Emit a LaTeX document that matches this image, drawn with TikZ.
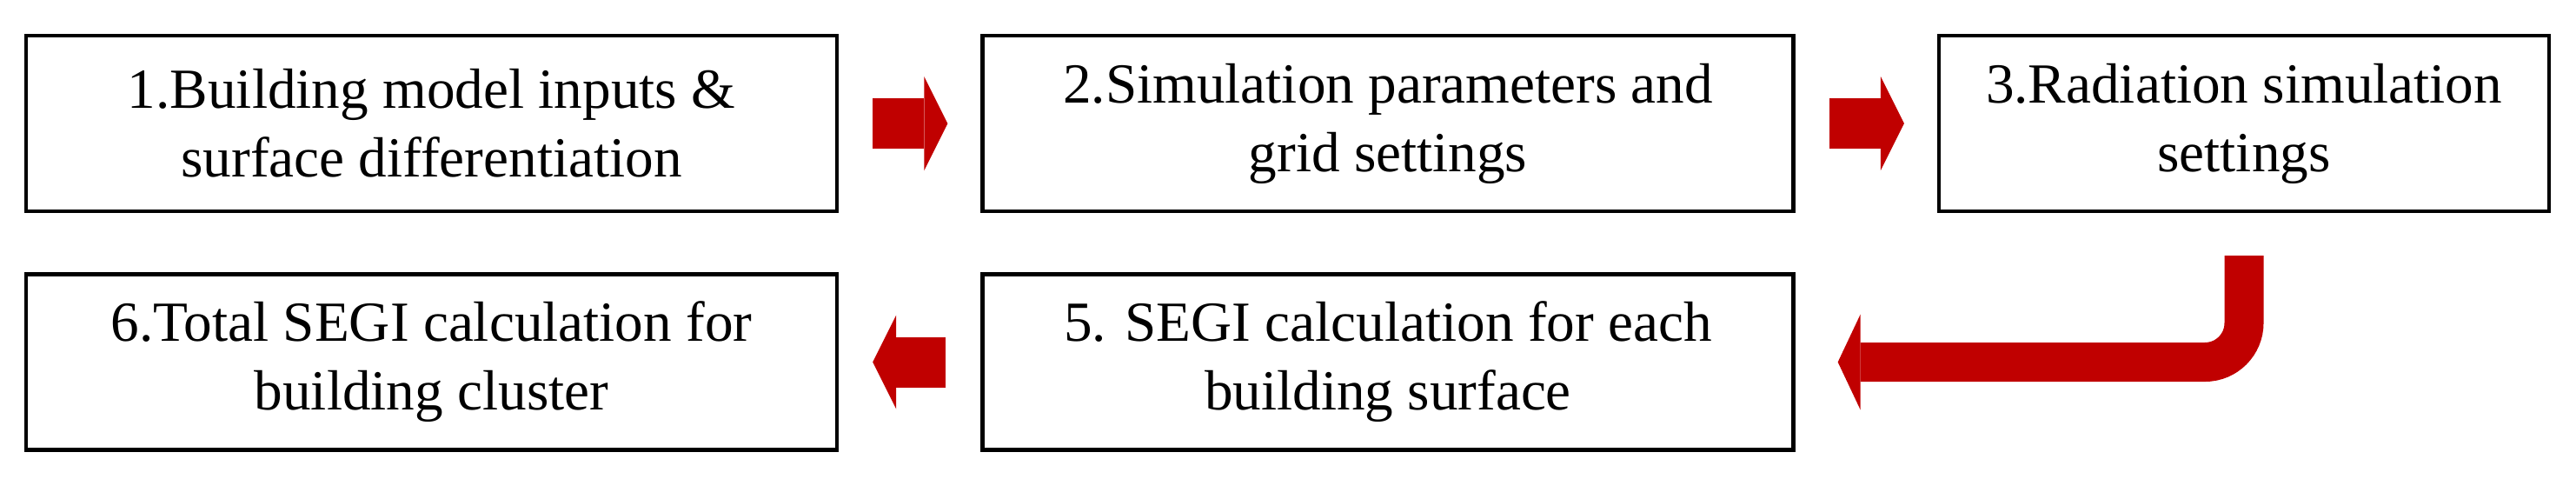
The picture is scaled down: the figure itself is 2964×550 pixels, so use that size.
\documentclass[tikz,border=0pt]{standalone}
\usepackage{fontspec}
\setmainfont{Liberation Serif}
\usepackage{xcolor}
\usetikzlibrary{arrows.meta}
\definecolor{flowred}{HTML}{C00000}

\begin{document}
\begin{tikzpicture}[x=0.25pt,y=-0.25pt,
    stepbox/.style={draw=black, line width=1.125pt, fill=white, inner sep=0pt,
        minimum width=233.2pt, minimum height=50.4pt, align=center,
        font=\fontsize{16.3}{19.75}\selectfont},
    fatarrow/.style={draw=flowred, line width=14.5pt,
        -{Triangle[length=6.75pt, width=27pt, line width=0pt]}}]
                \useasboundingbox (0,0) rectangle (2964,550);

                % Top row
                \node[stepbox] (inputs) at (496.5,142) {1.Building model inputs \&\\surface differentiation};
                \node[stepbox] (params) at (1597,142) {2.Simulation parameters and\\grid settings};
                \node[stepbox, minimum width=175.4pt] (radiation) at (2582,142) {3.Radiation simulation\\settings};

                % Bottom row
                \node[stepbox] (total) at (496.5,416.5) {6.Total SEGI calculation for\\building cluster};
                \node[stepbox] (surface) at (1597,416.5) {5. SEGI calculation for each\\building surface};

                % Flow arrows
                \draw[fatarrow] ([xshift=9.75pt]inputs.east) -- ([xshift=-9.5pt]params.west);
                \draw[fatarrow] ([xshift=9.75pt]params.east) -- ([xshift=-9.5pt]radiation.west);
                \draw[fatarrow, line width=11.25pt, rounded corners=11.25pt,
                    -{Triangle[length=6.5pt, width=27.5pt, line width=0pt]}]
                    ([yshift=-12.25pt]radiation.south) |- ([xshift=12.25pt]surface.east);
                \draw[fatarrow] ([xshift=-10pt]surface.west) -- ([xshift=9.75pt]total.east);
            \end{tikzpicture}
\end{document}
